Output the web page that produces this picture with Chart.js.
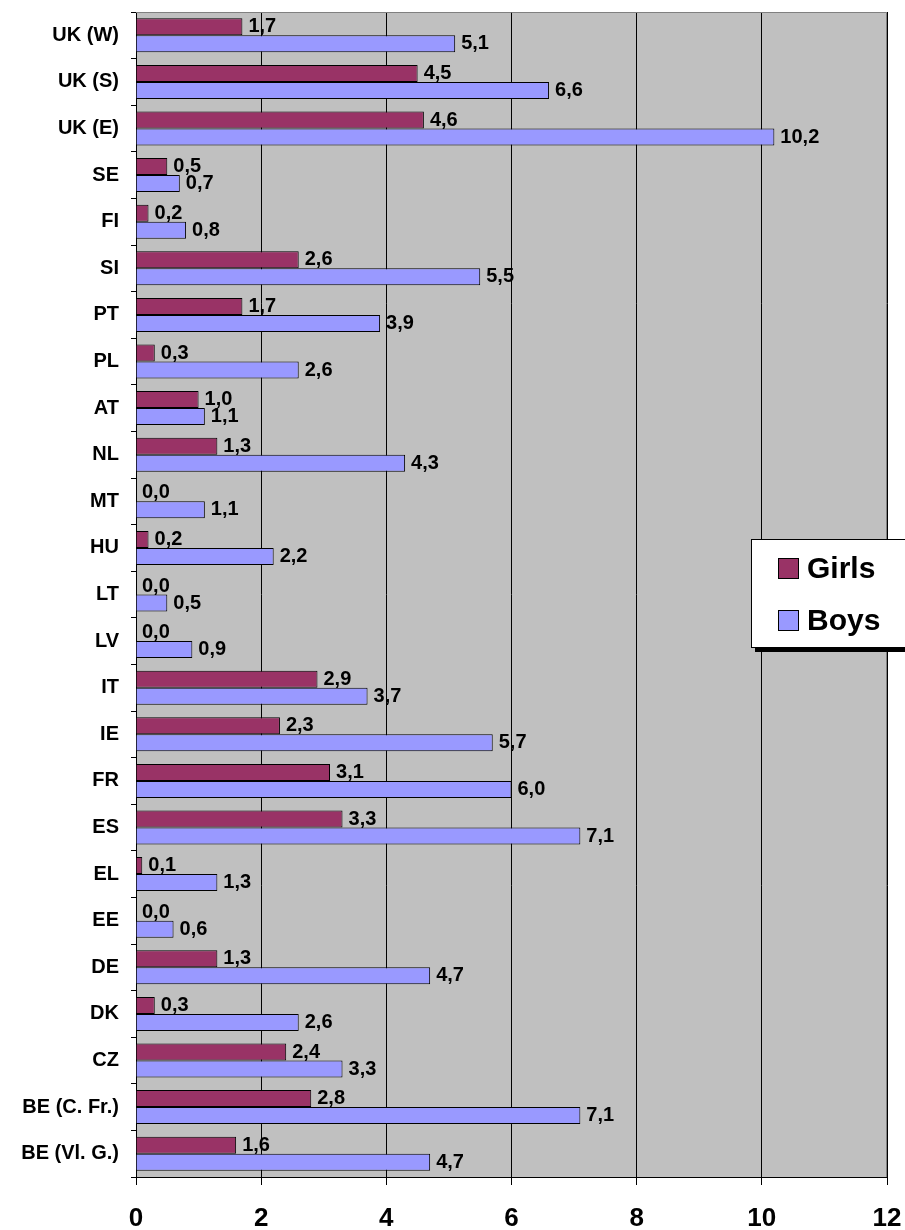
<!DOCTYPE html>
<html>
<head>
<meta charset="utf-8">
<script src="https://cdn.jsdelivr.net/npm/chart.js@4.4.1/dist/chart.umd.min.js"></script>
<style>
  html, body { margin: 0; padding: 0; background: #fff; }
  #wrap { position: relative; width: 905px; height: 1230px; overflow: hidden; }
  #legend {
    position: absolute; left: 751px; top: 539px; width: 170px; height: 107px;
    background: #fff; border: 1px solid #000; box-shadow: 4px 4px 0 #000;
    font-family: "Liberation Sans", Arial, sans-serif; font-weight: bold; font-size: 30px;
  }
  .item { position: absolute; left: 26px; height: 30px; line-height: 30px; white-space: nowrap; }
  .sw { display: inline-block; width: 19px; height: 19px; border: 1px solid #000; vertical-align: middle; margin-right: 8px; position: relative; top: -2px; }
</style>
</head>
<body>
<div id="wrap">
  <canvas id="c" width="905" height="1230"></canvas>
  <div id="legend">
    <div class="item" style="top:13px"><span class="sw" style="background:#993366"></span>Girls</div>
    <div class="item" style="top:65px"><span class="sw" style="background:#9999FF"></span>Boys</div>
  </div>
</div>
<script>
// Countries, listed top to bottom
const categories = ['UK (W)', 'UK (S)', 'UK (E)', 'SE', 'FI', 'SI', 'PT', 'PL', 'AT', 'NL', 'MT', 'HU', 'LT', 'LV', 'IT', 'IE', 'FR', 'ES', 'EL', 'EE', 'DE', 'DK', 'CZ', 'BE (C. Fr.)', 'BE (Vl. G.)'];
const girls = [1.7, 4.5, 4.6, 0.5, 0.2, 2.6, 1.7, 0.3, 1.0, 1.3, 0.0, 0.2, 0.0, 0.0, 2.9, 2.3, 3.1, 3.3, 0.1, 0.0, 1.3, 0.3, 2.4, 2.8, 1.6];
const boys  = [5.1, 6.6, 10.2, 0.7, 0.8, 5.5, 3.9, 2.6, 1.1, 4.3, 1.1, 2.2, 0.5, 0.9, 3.7, 5.7, 6.0, 7.1, 1.3, 0.6, 4.7, 2.6, 3.3, 7.1, 4.7];
const xTicks = [0, 2, 4, 6, 8, 10, 12];

const FONT = '"Liberation Sans", Arial, sans-serif';

// Grey plot area with a dark frame on top and right
const plotArea = {
  id: 'plotArea',
  beforeDraw(chart) {
    const { ctx, chartArea: a } = chart;
    ctx.save();
    ctx.fillStyle = '#C0C0C0';
    ctx.fillRect(a.left, a.top, a.right - a.left, a.bottom - a.top);
    ctx.restore();
  },
  afterDraw(chart) {
    const { ctx, chartArea: a } = chart;
    ctx.save();
    ctx.strokeStyle = '#808080';
    ctx.lineWidth = 1;
    ctx.beginPath();
    ctx.moveTo(a.left, a.top + 0.5);
    ctx.lineTo(a.right - 0.5, a.top + 0.5);
    ctx.lineTo(a.right - 0.5, a.bottom);
    ctx.stroke();
    ctx.restore();
  }
};

// Value labels at the end of each bar, decimal comma
const valueLabels = {
  id: 'valueLabels',
  afterDatasetsDraw(chart) {
    const { ctx } = chart;
    ctx.save();
    ctx.font = 'bold 20px ' + FONT;
    ctx.fillStyle = '#000';
    ctx.textAlign = 'left';
    ctx.textBaseline = 'middle';
    chart.data.datasets.forEach((ds, i) => {
      chart.getDatasetMeta(i).data.forEach((bar, j) => {
        const txt = ds.data[j].toFixed(1).replace('.', ',');
        ctx.fillText(txt, bar.x + 6, bar.y);
      });
    });
    ctx.restore();
  }
};

new Chart(document.getElementById('c'), {
  type: 'bar',
  data: {
    labels: categories,
    datasets: [
      { label: 'Girls', data: girls, backgroundColor: '#993366', borderColor: '#000', borderWidth: 1 },
      { label: 'Boys',  data: boys,  backgroundColor: '#9999FF', borderColor: '#000', borderWidth: 1 }
    ]
  },
  options: {
    indexAxis: 'y',
    responsive: false,
    animation: false,
    devicePixelRatio: 1,
    layout: { padding: { top: 12, right: 18, left: 0, bottom: 0 } },
    datasets: { bar: { categoryPercentage: 0.73, barPercentage: 1.0 } },
    plugins: { legend: { display: false }, tooltip: { enabled: false } },
    scales: {
      x: {
        min: 0, max: 12,
        afterBuildTicks(scale) { scale.ticks = xTicks.map(v => ({ value: v })); },
        afterFit(scale) {
          scale.height = 53;
          scale.paddingLeft = 0; scale.paddingRight = 0;
        },
        grid: { color: '#000', lineWidth: 1, tickLength: 8, drawOnChartArea: true },
        border: { color: '#000', width: 1 },
        ticks: { color: '#000', font: { family: FONT, size: 26, weight: 'bold' }, padding: 18 }
      },
      y: {
        afterFit(scale) {
          scale.width = 136;
          scale.paddingTop = 0; scale.paddingBottom = 0;
        },
        grid: { offset: true, drawOnChartArea: false, color: '#000', tickLength: 5 },
        border: { color: '#000', width: 1 },
        ticks: { color: '#000', font: { family: FONT, size: 20, weight: 'bold' }, padding: 12, autoSkip: false }
      }
    }
  },
  plugins: [plotArea, valueLabels]
});
</script>
</body>
</html>
